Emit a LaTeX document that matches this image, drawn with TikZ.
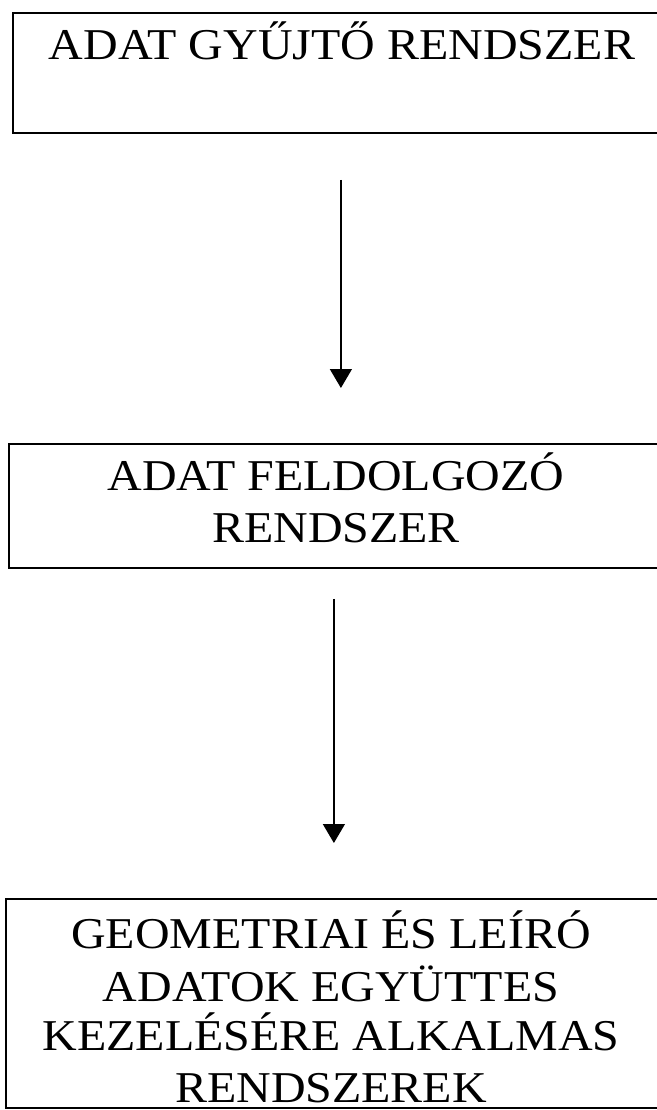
\documentclass[tikz,border=0pt]{standalone}
\usepackage{fontspec}
\setmainfont{Liberation Serif}
\newfontfamily\reffont[FakeStretch=1.09]{Liberation Serif}
\usetikzlibrary{arrows.meta}
\begin{document}
\begin{tikzpicture}[x=1pt,y=-1pt,
  box/.style={draw,line width=1.8pt,inner sep=0pt,anchor=north west},
  lbl/.style={font=\reffont\fontsize{44}{46}\selectfont,align=center,inner sep=0pt,anchor=base},
  conn/.style={line width=1.4pt,-{Triangle[width=22pt,length=19pt]}}]
\useasboundingbox (0,0) rectangle (656,1110);
\node[box,minimum width=656pt,minimum height=120pt] (b1) at (12,12) {};
\node[box,minimum width=650pt,minimum height=124pt] (b2) at (8,443) {};
\node[box,minimum width=656pt,minimum height=209pt] (b3) at (5,898) {};
\node[lbl] (t1) at (342,60) {ADAT GYŰJTŐ RENDSZER};
\node[lbl] (t2a) at (336,490) {ADAT FELDOLGOZÓ};
\node[lbl] (t2b) at (336,542) {RENDSZER};
\node[lbl] (t3a) at (331,948) {GEOMETRIAI ÉS LEÍRÓ};
\node[lbl] (t3b) at (331,1001) {ADATOK EGYÜTTES};
\node[lbl] (t3c) at (331,1050) {KEZELÉSÉRE ALKALMAS};
\node[lbl] (t3d) at (331,1102) {RENDSZEREK};
\draw[conn,shorten <=46pt,shorten >=55pt] (b1.south) -- (b2.north -| b1.south);
\draw[conn,shorten <=30pt,shorten >=55pt] (b2.south) -- (b3.north -| b2.south);
\end{tikzpicture}
\end{document}
